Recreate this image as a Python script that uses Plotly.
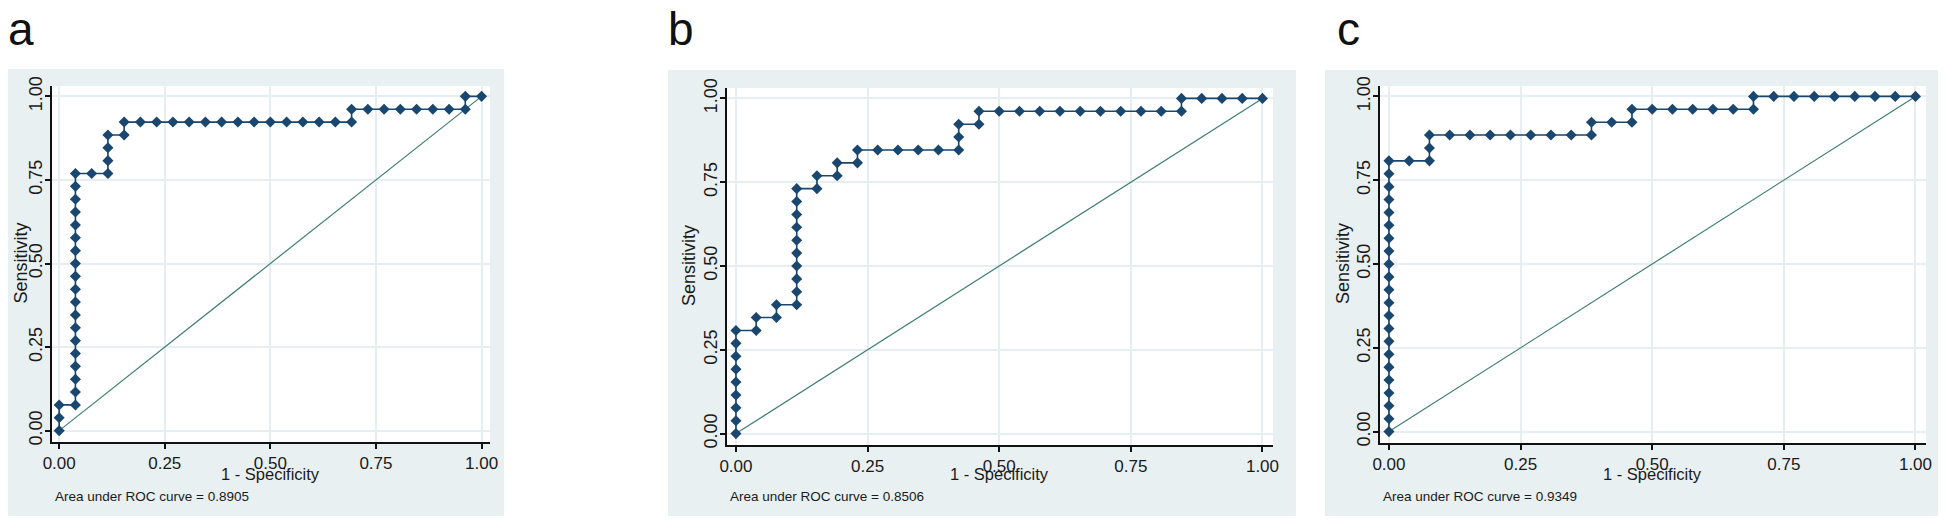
import plotly.graph_objects as go

# ROC staircase points, as counts of false positives / true positives (26 neg, 26 pos)
n_neg = 26
n_pos = 26

fp_a = [0, 0, 0, 1, 1, 1, 1, 1, 1, 1, 1, 1, 1, 1, 1, 1, 1, 1, 1, 1, 1, 1,
        2, 3, 3, 3, 3, 4, 4, 5, 6, 7, 8, 9, 10, 11, 12, 13, 14, 15, 16, 17, 18,
        18, 19, 20, 21, 22, 23, 24, 25, 25, 26]
tp_a = [0, 1, 2, 2, 3, 4, 5, 6, 7, 8, 9, 10, 11, 12, 13, 14, 15, 16, 17, 18, 19, 20,
        20, 20, 21, 22, 23, 23, 24, 24, 24, 24, 24, 24, 24, 24, 24, 24, 24, 24, 24, 24, 24,
        25, 25, 25, 25, 25, 25, 25, 25, 26, 26]

fp_b = [0, 0, 0, 0, 0, 0, 0, 0, 0, 1, 1, 2, 2, 3,
        3, 3, 3, 3, 3, 3, 3, 3, 3, 4, 4, 5, 5, 6, 6,
        7, 8, 9, 10, 11, 11, 11, 12, 12,
        13, 14, 15, 16, 17, 18, 19, 20, 21, 22, 22, 23, 24, 25, 26]
tp_b = [0, 1, 2, 3, 4, 5, 6, 7, 8, 8, 9, 9, 10, 10,
        11, 12, 13, 14, 15, 16, 17, 18, 19, 19, 20, 20, 21, 21, 22,
        22, 22, 22, 22, 22, 23, 24, 24, 25,
        25, 25, 25, 25, 25, 25, 25, 25, 25, 25, 26, 26, 26, 26, 26]

fp_c = [0, 0, 0, 0, 0, 0, 0, 0, 0, 0, 0, 0, 0, 0, 0, 0, 0, 0, 0, 0, 0, 0,
        1, 2, 2, 2, 3, 4, 5, 6, 7, 8, 9, 10, 10, 11, 12, 12,
        13, 14, 15, 16, 17, 18, 18, 19, 20, 21, 22, 23, 24, 25, 26]
tp_c = [0, 1, 2, 3, 4, 5, 6, 7, 8, 9, 10, 11, 12, 13, 14, 15, 16, 17, 18, 19, 20, 21,
        21, 21, 22, 23, 23, 23, 23, 23, 23, 23, 23, 23, 24, 24, 24, 25,
        25, 25, 25, 25, 25, 25, 26, 26, 26, 26, 26, 26, 26, 26, 26]

panel_letters = ["a", "b", "c"]
auc_values = ["0.8905", "0.8506", "0.9349"]
ref_line = [0, 1]
tick_vals = [0, 0.25, 0.5, 0.75, 1]
tick_text = ["0.00", "0.25", "0.50", "0.75", "1.00"]

# the page body has an 8px margin, so the figure is drawn 16px smaller
PAGE_W, PAGE_H = 1946, 526
OFF = 8
W, H = PAGE_W - 2 * OFF, PAGE_H - 2 * OFF - 2
NAVY = "#1a476f"
REF = "#3f7f70"
BG = "#e9f0f2"
GRID = "#e6eef1"
FONT = "Liberation Sans Narrow, Arial Narrow, Liberation Sans, Arial, sans-serif"
TXT = "#1a1a1a"

# page-pixel layout of each panel: outer box, plot area
boxes = [(2, 69, 504, 519), (668, 70, 1296, 521), (1325, 70, 1946, 521)]
plots = [(52, 86, 490, 442), (727, 88, 1273, 445), (1380, 86, 1926, 443)]
letter_x = [6, 666, 1335]
ytitle_gap = [31, 38, 37]

def px(x):
    return (x - OFF) / W

def py(y):
    return 1 - (y - OFF) / H

fig = go.Figure()
shapes = []
annotations = []
series = [(fp_a, tp_a), (fp_b, tp_b), (fp_c, tp_c)]

for i in range(3):
    sfx = "" if i == 0 else str(i + 1)
    xa, ya = "x" + sfx, "y" + sfx
    bx0, by0, bx1, by1 = boxes[i]
    x0, y0, x1, y1 = plots[i]
    shapes.append(dict(type="rect", xref="paper", yref="paper", x0=px(bx0), x1=px(bx1),
                       y0=py(by1), y1=py(by0), fillcolor=BG, line_width=0, layer="below"))
    shapes.append(dict(type="rect", xref="paper", yref="paper", x0=px(x0), x1=px(x1),
                       y0=py(y1), y1=py(y0), fillcolor="white", line_width=0, layer="below"))

    fp, tp = series[i]
    fig.add_trace(go.Scatter(x=ref_line, y=ref_line, mode="lines", xaxis=xa, yaxis=ya,
                             line=dict(color=REF, width=1.2), hoverinfo="skip", showlegend=False))
    fig.add_trace(go.Scatter(x=[v / n_neg for v in fp], y=[v / n_pos for v in tp],
                             mode="lines+markers", xaxis=xa, yaxis=ya, showlegend=False,
                             line=dict(color=NAVY, width=1.6),
                             marker=dict(symbol="diamond", size=8.5, color=NAVY)))

    axis_common = dict(tickvals=tick_vals, ticktext=tick_text, showgrid=True, automargin=False,
                       gridcolor=GRID, gridwidth=1.5, zeroline=False, showline=True,
                       linecolor="#111", linewidth=2, ticks="outside", ticklen=5,
                       tickwidth=1.5, tickcolor="#111")
    fig.layout["xaxis" + sfx] = dict(axis_common, range=[-0.017, 1.02],
                                     domain=[px(x0), px(x1)], anchor=ya,
                                     tickfont=dict(family=FONT, size=17, color=TXT))
    fig.layout["yaxis" + sfx] = dict(axis_common, range=[-0.034, 1.031],
                                     domain=[py(y1), py(y0)], anchor=xa, tickangle=-90,
                                     ticklabelstandoff=-4,
                                     tickfont=dict(family=FONT, size=18, color=TXT))

    annotations.append(dict(text=panel_letters[i], xref="paper", yref="paper",
                            x=px(letter_x[i]), y=py(29), xanchor="left", yanchor="middle",
                            showarrow=False, font=dict(family="Liberation Sans, Arial", size=46, color="#111")))
    annotations.append(dict(text="Sensitivity", xref="paper", yref=ya, x=px(x0 - ytitle_gap[i]), y=0.5,
                            textangle=-90, xanchor="center", yanchor="middle", showarrow=False,
                            font=dict(family=FONT, size=18, color=TXT)))
    annotations.append(dict(text="1 - Specificity", xref=xa, yref="paper", x=0.5, y=py(474),
                            xanchor="center", yanchor="middle", showarrow=False,
                            font=dict(family=FONT, size=16.5, color=TXT)))
    annotations.append(dict(text="Area under ROC curve = " + auc_values[i], xref="paper",
                            yref="paper", x=px(x0 + 1), y=py(496), xanchor="left",
                            yanchor="middle", showarrow=False,
                            font=dict(family=FONT, size=13.5, color=TXT)))

fig.update_layout(width=W, height=H, margin=dict(l=0, r=0, t=0, b=0, autoexpand=False),
                  paper_bgcolor="white", plot_bgcolor="rgba(0,0,0,0)",
                  shapes=shapes, annotations=annotations, showlegend=False)

fig.write_html("out.html")
